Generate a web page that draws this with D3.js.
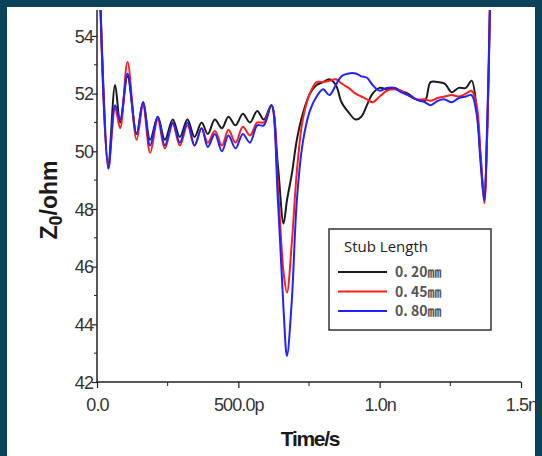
<!DOCTYPE html>
<html>
<head>
<meta charset="utf-8">
<script src="https://cdn.jsdelivr.net/npm/d3@7"></script>
<style>
  html, body { margin: 0; padding: 0; background: #0c4259; }
  svg { display: block; }
</style>
</head>
<body>
<div class="chart"></div>
<script>
// time axis in ns, impedance in ohm
const times = [0.010, 0.040, 0.064, 0.082, 0.108, 0.140, 0.163, 0.188, 0.215, 0.240,
  0.268, 0.293, 0.320, 0.345, 0.370, 0.392, 0.417, 0.442, 0.465, 0.490,
  0.516, 0.541, 0.567, 0.590, 0.617, 0.640, 0.660, 0.672, 0.689, 0.707,
  0.728, 0.753, 0.777, 0.800, 0.822, 0.845, 0.865, 0.890, 0.915, 0.935,
  0.955, 0.975, 1.000, 1.025, 1.050, 1.075, 1.100, 1.130, 1.160, 1.180,
  1.205, 1.230, 1.255, 1.280, 1.305, 1.325, 1.343, 1.357, 1.370, 1.380, 1.392];

const stub020 = [55.8, 49.6, 52.3, 51.0, 52.6, 50.6, 51.7, 50.4, 51.2, 50.4,
  51.1, 50.5, 51.1, 50.5, 51.0, 50.6, 51.1, 50.8, 51.2, 50.9,
  51.3, 51.0, 51.4, 51.1, 51.6, 49.5, 47.5, 48.3, 49.2, 50.4,
  51.3, 52.0, 52.3, 52.4, 52.5, 52.3, 51.7, 51.35, 51.1, 51.2,
  51.6, 52.0, 52.2, 52.15, 52.2, 52.1, 52.0, 51.8, 51.75, 52.4,
  52.4, 52.35, 52.05, 52.2, 52.2, 52.45, 51.5, 49.8, 48.4, 50.5, 56.0];

const stub045 = [55.8, 49.4, 51.5, 50.8, 53.1, 50.4, 51.6, 49.95, 51.1, 50.1,
  50.95, 50.2, 50.9, 50.2, 50.8, 50.3, 50.7, 50.2, 50.75, 50.3,
  50.85, 50.55, 51.0, 51.0, 51.6, 48.8, 45.8, 45.1, 46.8, 49.3,
  51.1, 52.0, 52.4, 52.4, 52.45, 52.5, 52.35, 52.2, 52.0, 51.9,
  51.8, 51.7, 51.9, 52.1, 52.15, 52.1, 51.95, 51.8, 51.8, 51.75,
  51.85, 51.9, 51.95, 51.9, 52.0, 52.1, 51.6, 49.9, 48.2, 50.5, 56.0];

const stub080 = [55.8, 49.4, 51.6, 51.1, 52.7, 50.6, 51.7, 50.2, 51.2, 50.2,
  51.0, 50.3, 51.0, 50.2, 50.8, 50.15, 50.6, 50.0, 50.55, 50.1,
  50.6, 50.3, 50.9, 50.9, 51.6, 48.3, 44.5, 42.9, 44.8, 48.3,
  50.3, 51.4, 51.9, 52.15, 51.95, 52.3, 52.6, 52.7, 52.7, 52.6,
  52.55, 52.3, 52.1, 52.2, 52.2, 52.05, 51.95, 51.8, 51.7, 51.6,
  51.75, 51.8, 51.7, 51.85, 51.9, 51.95, 51.3, 49.6, 48.3, 50.8, 56.0];

const seriesNames = ["0. 20㎜", "0. 45㎜", "0. 80㎜"];
const seriesColors = ["#1c1c1c", "#ff1e1e", "#2222ff"];
const yTicks = [42, 44, 46, 48, 50, 52, 54];
const yMinor = [43, 45, 47, 49, 51, 53];
const xTicks = [0, 0.5, 1.0, 1.5];
const xMinor = [0.25, 0.75, 1.25];
const xTickLabels = ["0.0", "500.0p", "1.0n", "1.5n"];

const W = 542, H = 456;
const svg = d3.select(".chart").append("svg")
  .attr("width", W).attr("height", H);

// white panel inside the dark frame
svg.append("rect")
  .attr("x", 7).attr("y", 7)
  .attr("width", 528).attr("height", H - 7)
  .attr("fill", "#fff");

const x = d3.scaleLinear().domain([0, 1.5]).range([97, 521]);
const y = d3.scaleLinear().domain([42, 54.9]).range([382, 10]);

svg.append("clipPath").attr("id", "plot")
  .append("rect")
  .attr("x", x(0)).attr("y", y(54.9))
  .attr("width", x(1.5) - x(0)).attr("height", y(42) - y(54.9));

const line = d3.line()
  .x((d, i) => x(times[i]))
  .y(d => y(d))
  .curve(d3.curveCatmullRom.alpha(0.5));

const lines = svg.append("g").attr("clip-path", "url(#plot)");
[stub020, stub045, stub080].forEach((s, i) => {
  lines.append("path")
    .datum(s)
    .attr("d", line)
    .attr("fill", "none")
    .attr("stroke", seriesColors[i])
    .attr("stroke-width", 2)
    .attr("stroke-linejoin", "round");
});

// axes
const axisColor = "#222";
const tickFont = "Liberation Sans, Arial, sans-serif";
const yAxis = svg.append("g").attr("transform", `translate(${x(0)},0)`);
yAxis.call(d3.axisLeft(y).tickValues(yTicks).tickSize(5).tickFormat(d3.format("d")));
yAxis.selectAll(".minor").data(yMinor).enter()
  .append("line")
  .attr("x1", 0).attr("x2", -3)
  .attr("y1", d => y(d)).attr("y2", d => y(d))
  .attr("stroke", axisColor);

const xAxis = svg.append("g").attr("transform", `translate(0,${y(42)})`);
xAxis.call(d3.axisBottom(x).tickValues(xTicks).tickSize(6)
  .tickFormat((d, i) => xTickLabels[i]));
xAxis.selectAll(".minor").data(xMinor).enter()
  .append("line")
  .attr("y1", 0).attr("y2", 4)
  .attr("x1", d => x(d)).attr("x2", d => x(d))
  .attr("stroke", axisColor);

[xAxis, yAxis].forEach(a => {
  a.attr("font-size", null).attr("font-family", null);
  a.select(".domain").remove();
  a.selectAll(".tick line").attr("stroke", axisColor).attr("stroke-width", 1.2);
  a.selectAll(".tick text")
    .attr("fill", "#333")
    .style("font-family", tickFont)
    .style("font-size", "18px")
    .style("letter-spacing", "-0.9px");
});
svg.append("line")
  .attr("x1", x(0)).attr("x2", x(0)).attr("y1", y(54.9)).attr("y2", y(42))
  .attr("stroke", axisColor).attr("stroke-width", 1.5);
svg.append("line")
  .attr("x1", x(0)).attr("x2", x(1.5)).attr("y1", y(42)).attr("y2", y(42))
  .attr("stroke", axisColor).attr("stroke-width", 1.5);
yAxis.selectAll(".tick text").attr("x", -4).attr("dy", "0.35em");
xAxis.selectAll(".tick text").attr("y", 16);

// axis titles
svg.append("text")
  .attr("x", 310).attr("y", 446)
  .attr("text-anchor", "middle")
  .style("font-family", tickFont)
  .style("font-weight", "bold")
  .style("font-size", "21px")
  .style("letter-spacing", "-1.3px")
  .attr("fill", "#1a1a1a")
  .text("Time/s");

const yTitle = svg.append("text")
  .attr("transform", "translate(57,200) rotate(-90)")
  .attr("text-anchor", "middle")
  .style("font-family", tickFont)
  .style("font-weight", "bold")
  .style("font-size", "23px")
  .attr("fill", "#1a1a1a");
yTitle.append("tspan").text("Z");
yTitle.append("tspan").attr("dy", 5).style("font-size", "18px").text("0");
yTitle.append("tspan").attr("dy", -5).text("/ohm");

// legend
const lg = svg.append("g").attr("transform", "translate(329,229)");
lg.append("rect")
  .attr("width", 162).attr("height", 101)
  .attr("fill", "#fff").attr("stroke", "#333").attr("stroke-width", 1.5);
lg.append("text")
  .attr("x", 15).attr("y", 23)
  .style("font-family", "Open Sans, Noto Sans, sans-serif")
  .style("font-size", "15px")
  .attr("fill", "#222")
  .text("Stub Length");
seriesNames.forEach((name, i) => {
  const ly = 43 + i * 19.5;
  lg.append("line")
    .attr("x1", 9).attr("x2", 58).attr("y1", ly).attr("y2", ly)
    .attr("stroke", seriesColors[i]).attr("stroke-width", 2);
  lg.append("text")
    .attr("x", 66).attr("y", ly + 5)
    .style("font-family", "Noto Sans CJK SC, sans-serif")
    .style("font-size", "14px")
    .style("font-weight", "bold")
    .attr("fill", "#555")
    .text(name);
});
</script>
</body>
</html>
